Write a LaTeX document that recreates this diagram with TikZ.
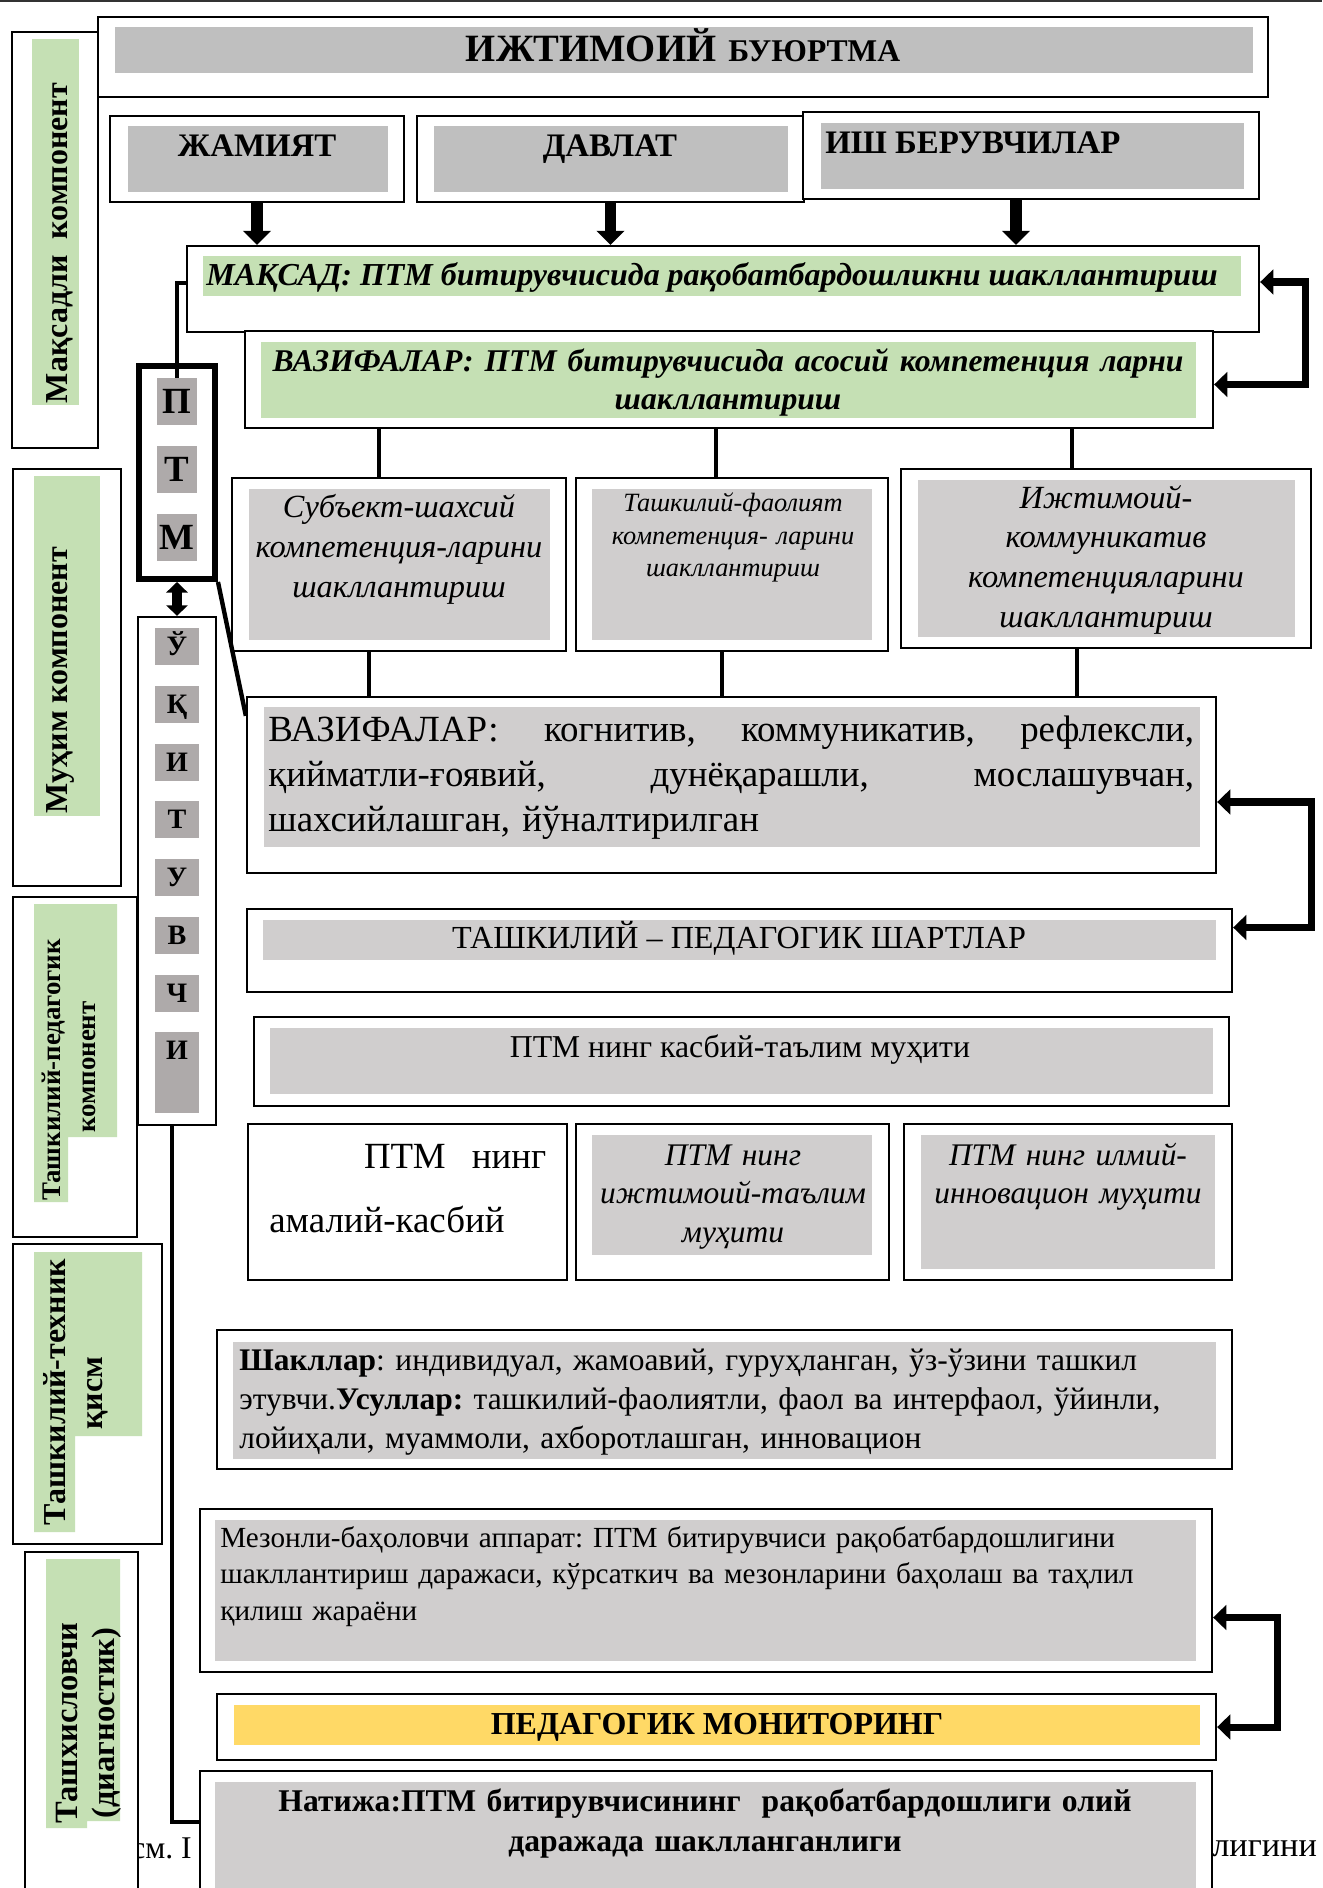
\documentclass[tikz,border=0pt]{standalone}
\usepackage{fontspec}
\setmainfont{Liberation Serif}
\usetikzlibrary{arrows.meta, fit}
\definecolor{grayTop}{HTML}{BFBFBF}
\definecolor{grayBox}{HTML}{D0CECE}
\definecolor{grayLetter}{HTML}{AEAAAA}
\definecolor{greenLabel}{HTML}{C5E0B4}
\definecolor{yellowMon}{HTML}{FFD966}
\newcommand{\fsz}[2]{\fontsize{#1pt}{#2pt}\selectfont}
\newcommand{\fullline}[1]{\noindent\hbox to\hsize{#1}}
\frenchspacing

\begin{document}
\begin{tikzpicture}[
  x=0.02cm, y=-0.02cm,
  frame/.style={draw, line width=1.3pt, fill=white, inner sep=0pt},
  heavy/.style={draw, line width=3.4pt, fill=white, inner sep=0pt},
  txt/.style={inner sep=0pt, anchor=base},
  side/.style={inner sep=0pt, anchor=base, rotate=90, font=\fsz{18.2}{22}\bfseries},
  bigletter/.style={fill=grayLetter, inner sep=0pt, minimum width=0.8cm,
                    minimum height=0.94cm, text height=0.48cm, text depth=0pt,
                    font=\fsz{21}{24}\bfseries},
  letter/.style={fill=grayLetter, inner sep=0pt, minimum width=0.88cm,
                 minimum height=0.74cm, text height=0.36cm, text depth=0pt,
                 font=\fsz{16}{19}\bfseries},
  down/.style={line width=6.8pt, -{Triangle[length=8pt,width=15.5pt]}},
  back/.style={line width=4pt,
               {Triangle[length=7.5pt,width=14pt]}-{Triangle[length=7.5pt,width=14pt]}},
  twoway/.style={line width=5.7pt,
                 {Triangle[length=6pt,width=12pt]}-{Triangle[length=6pt,width=12pt]}},
  link/.style={line width=2.5pt}
]
\useasboundingbox (0,0) rectangle (1322,1888);
\draw[line width=1pt, black!80] (0,1) -- (1322,1);

% caption text, partly hidden by the frames
\node[txt, anchor=base west, font=\fsz{18}{21}] (capL) at (131,1858) {см. I};
\node[txt, anchor=base west, font=\fsz{19.5}{22}] (capR) at (1212,1856) {лигини};

% left column
\node[frame, fit={(12,32) (98,448)}] (goalcol) {};
\fill[greenLabel] (32,39) rectangle (79,405);
\node[side] (goalcolT) at (67,243) {Мақсадли\ \ компонент};

\node[frame, fit={(13,469) (121,886)}] (corecol) {};
\fill[greenLabel] (34,476) rectangle (100,816);
\node[side] (corecolT) at (67,680) {Муҳим компонент};

\node[frame, fit={(13,897) (137,1237)}] (orgcol) {};
\fill[greenLabel] (34,904) -- (117,904) -- (117,1137) -- (68,1137)
  -- (68,1202) -- (34,1202) -- cycle;
\node[side, font=\fsz{15.3}{19}\bfseries] (orgcolA) at (60,1070) {Ташкилий-педагогик};
\node[side, font=\fsz{15.3}{19}\bfseries] (orgcolB) at (95,1067) {компонент};

\node[frame, fit={(13,1244) (162,1544)}] (techcol) {};
\fill[greenLabel] (34,1252) -- (142,1252) -- (142,1436) -- (75,1436)
  -- (75,1532) -- (34,1532) -- cycle;
\node[side] (techcolA) at (65,1392) {Ташкилий-техник};
\node[side] (techcolB) at (102,1393) {қисм};

\node[frame, fit={(25,1552) (138,1895)}] (diagcol) {};
\fill[greenLabel] (46,1559) -- (120,1559) -- (120,1821) -- (87,1821)
  -- (87,1828) -- (46,1828) -- cycle;
\node[side, font=\fsz{18.5}{22}\bfseries] (diagcolA) at (77,1723) {Ташхисловчи};
\node[side, font=\fsz{18.5}{22}\bfseries] (diagcolB) at (114,1723) {(диагностик)};

% PTM and teacher
\node[heavy, fit={(139,366) (215,579)}] (ptm) {};
\foreach \ltr/\yy [count=\i] in {П/378, Т/446, М/514}
  \node[bigletter] (p\i) at (177,\yy+23.5) {\ltr};

\node[frame, fit={(138,617) (216,1125)}] (teacher) {};
\fill[grayLetter] (155,1050) rectangle (199,1113);
\foreach \ltr [count=\i from 0] in {Ў,Қ,И,Т,У,В,Ч,И}
  \node[letter] (u\i) at (177,646.5+57.75*\i) {\ltr};

% social order
\node[frame, fit={(98,17) (1268,97)}] (order) {};
\fill[grayTop] (115,27) rectangle (1253,73);
\node[txt, font=\bfseries] (orderT) at (683,62)
  {{\fsz{22}{24}ИЖТИМОИЙ}\hspace{7pt}{\fsz{18}{20}БУЮРТМА}};

\node[frame, fit={(110,116) (404,202)}] (society) {};
\fill[grayTop] (128,126) rectangle (388,192);
\node[txt, font=\fsz{18.7}{22}\bfseries] (societyT) at (257,157) {ЖАМИЯТ};

\node[frame, fit={(417,116) (804,202)}] (state) {};
\fill[grayTop] (434,126) rectangle (788,192);
\node[txt, font=\fsz{18.7}{22}\bfseries] (stateT) at (610,157) {ДАВЛАТ};

\node[frame, fit={(803,112) (1259,199)}] (employers) {};
\fill[grayTop] (821,123) rectangle (1244,189);
\node[txt, anchor=base west, font=\fsz{18.7}{22}\bfseries] (employersT) at (825,154)
  {ИШ БЕРУВЧИЛАР};

% goal and tasks
\node[frame, fit={(187,246) (1259,332)}] (goal) {};
\fill[greenLabel] (203,256) rectangle (1241,296);
\node[txt, font=\fsz{18.2}{20}\bfseries\itshape] (goalT) at (712,286)
  {МАҚСАД: ПТМ битирувчисида рақобатбардошликни шакллантириш};

\node[frame, fit={(245,331) (1213,428)}] (tasks) {};
\fill[greenLabel] (261,342) rectangle (1196,418);
\node[txt, text width=18.22cm, align=center, font=\fsz{18}{21.5}\bfseries\itshape]
  (tasksT) at (728,372)
  {\fullline{ВАЗИФАЛАР:\hfill ПТМ\hfill битирувчисида\hfill асосий\hfill компетенция\hfill ларни}\\шакллантириш};

% competences
\node[frame, fit={(232,478) (566,651)}] (subject) {};
\fill[grayBox] (249,489) rectangle (550,640);
\node[txt, text width=6.4cm, align=center, font=\fsz{18.4}{22.7}\itshape]
  (subjectT) at (399,518) {Субъект-шахсий\\компетенция-ларини\\шакллантириш};

\node[frame, fit={(576,478) (888,651)}] (activity) {};
\fill[grayBox] (592,489) rectangle (872,640);
\node[txt, text width=5.6cm, align=center, font=\fsz{15}{18.4}\itshape]
  (activityT) at (733,512) {Ташкилий-фаолият\\компетенция- ларини\\шакллантириш};

\node[frame, fit={(901,469) (1311,648)}] (social) {};
\fill[grayBox] (918,480) rectangle (1295,637);
\node[txt, text width=7.5cm, align=center, font=\fsz{18.4}{22.7}\itshape]
  (socialT) at (1106,508) {Ижтимоий-\\коммуникатив\\компетенцияларини\\шакллантириш};

% functions
\node[frame, fit={(247,697) (1216,873)}] (functions) {};
\fill[grayBox] (264,707) rectangle (1200,847);
\node[txt, anchor=base west, text width=18.52cm, align=left, font=\fsz{21}{25.8}]
  (functionsT) at (268,741)
  {\fullline{ВАЗИФАЛАР:\hfill когнитив,\hfill коммуникатив,\hfill рефлексли,}\\
   \fullline{қийматли-ғоявий,\hfill дунёқарашли,\hfill мослашувчан,}\\
   шахсийлашган, йўналтирилган};

% conditions
\node[frame, fit={(247,909) (1232,992)}] (terms) {};
\fill[grayBox] (263,920) rectangle (1216,960);
\node[txt, font=\fsz{18.3}{21}] (termsT) at (739,948) {ТАШКИЛИЙ – ПЕДАГОГИК ШАРТЛАР};

\node[frame, fit={(254,1017) (1229,1106)}] (milieu) {};
\fill[grayBox] (270,1028) rectangle (1213,1094);
\node[txt, font=\fsz{18.1}{21}] (milieuT) at (740,1057) {ПТМ нинг касбий-таълим муҳити};

\node[frame, fit={(248,1124) (567,1280)}] (practice) {};
\node[txt, anchor=base west, text width=5.54cm, align=left, font=\fsz{21}{36.9}]
  (practiceT) at (269,1168) {\fullline{\hfill ПТМ\hspace{15pt}нинг}\\амалий-касбий};

\node[frame, fit={(576,1124) (889,1280)}] (socialedu) {};
\fill[grayBox] (592,1135) rectangle (872,1255);
\node[txt, text width=7cm, align=center, font=\fsz{17.9}{22.1}\itshape]
  (socialeduT) at (733,1165) {ПТМ нинг\\ижтимоий-таълим\\муҳити};

\node[frame, fit={(904,1124) (1232,1280)}] (science) {};
\fill[grayBox] (921,1135) rectangle (1215,1269);
\node[txt, text width=7cm, align=center, font=\fsz{17.9}{22.1}\itshape]
  (scienceT) at (1068,1165) {ПТМ нинг илмий-\\инновацион муҳити};

% forms, criteria, monitoring, result
\node[frame, fit={(217,1330) (1232,1469)}] (forms) {};
\fill[grayBox] (233,1342) rectangle (1216,1459);
\node[txt, anchor=base west, text width=21cm, align=left, font=\fsz{17.9}{22.4}]
  (formsT) at (239,1370)
  {\textbf{Шакллар}: индивидуал, жамоавий, гуруҳланган, ўз-ўзини ташкил\\
   этувчи.\textbf{Усуллар:} ташкилий-фаолиятли, фаол ва интерфаол, ўйинли,\\
   лойиҳали, муаммоли, ахборотлашган, инновацион};

\node[frame, fit={(200,1509) (1212,1672)}] (criteria) {};
\fill[grayBox] (215,1520) rectangle (1196,1661);
\node[txt, anchor=base west, text width=21cm, align=left, font=\fsz{16.6}{21}]
  (criteriaT) at (220,1547)
  {Мезонли-баҳоловчи аппарат: ПТМ битирувчиси рақобатбардошлигини\\
   шакллантириш даражаси, кўрсаткич ва мезонларини баҳолаш ва таҳлил\\
   қилиш жараёни};

\node[frame, fit={(217,1694) (1216,1760)}] (monitor) {};
\fill[yellowMon] (234,1705) rectangle (1200,1745);
\node[txt, font=\fsz{18.2}{22}\bfseries] (monitorT) at (717,1734) {ПЕДАГОГИК МОНИТОРИНГ};

\node[frame, fit={(200,1771) (1212,1900)}] (result) {};
\fill[grayBox] (215,1782) rectangle (1196,1888);
\node[txt, text width=19cm, align=center, font=\fsz{18}{23.2}\bfseries]
  (resultT) at (705,1811)
  {Натижа:ПТМ битирувчисининг\ \ рақобатбардошлиги олий\\даражада шаклланганлиги};

% connectors
\draw[down] (society.south) -- (society.south |- goal.north);
\draw[down] (state.south) -- (state.south |- goal.north);
\draw[down] ([xshift=-0.3cm]employers.south) -- ([xshift=-0.3cm]employers.south |- goal.north);

\draw[back] ([yshift=0.14cm]goal.east) -- ++(45,0) |- ([yshift=-0.1cm]tasks.east);
\draw[back] ([yshift=-0.34cm]functions.east) -- ++(94,0) |- ([yshift=0.46cm]terms.east);
\draw[back] ([yshift=-0.54cm]criteria.east) -- ++(64,0) |- (monitor.east);

\draw[link] ([xshift=-0.4cm]subject.north) -- ([xshift=-0.4cm]subject.north |- tasks.south);
\draw[link] ([xshift=-0.32cm]activity.north) -- ([xshift=-0.32cm]activity.north |- tasks.south);
\draw[link] ([xshift=-0.68cm]social.north) -- ([xshift=-0.68cm]social.north |- tasks.south);

\draw[link] ([xshift=-0.6cm]subject.south) -- ([xshift=-0.6cm]subject.south |- functions.north);
\draw[link] ([xshift=-0.2cm]activity.south) -- ([xshift=-0.2cm]activity.south |- functions.north);
\draw[link] ([xshift=-0.58cm]social.south) -- ([xshift=-0.58cm]social.south |- functions.north);

\draw[link] ([yshift=0.12cm]goal.west) -| (p1.north);
\draw[twoway] (ptm.south) -- (teacher.north);
\draw[link] (ptm.south east) -- ([yshift=-0.4cm]functions.north west);
\draw[link] ([xshift=-0.1cm]teacher.south) |- ([yshift=0.27cm]result.west);
\end{tikzpicture}
\end{document}
